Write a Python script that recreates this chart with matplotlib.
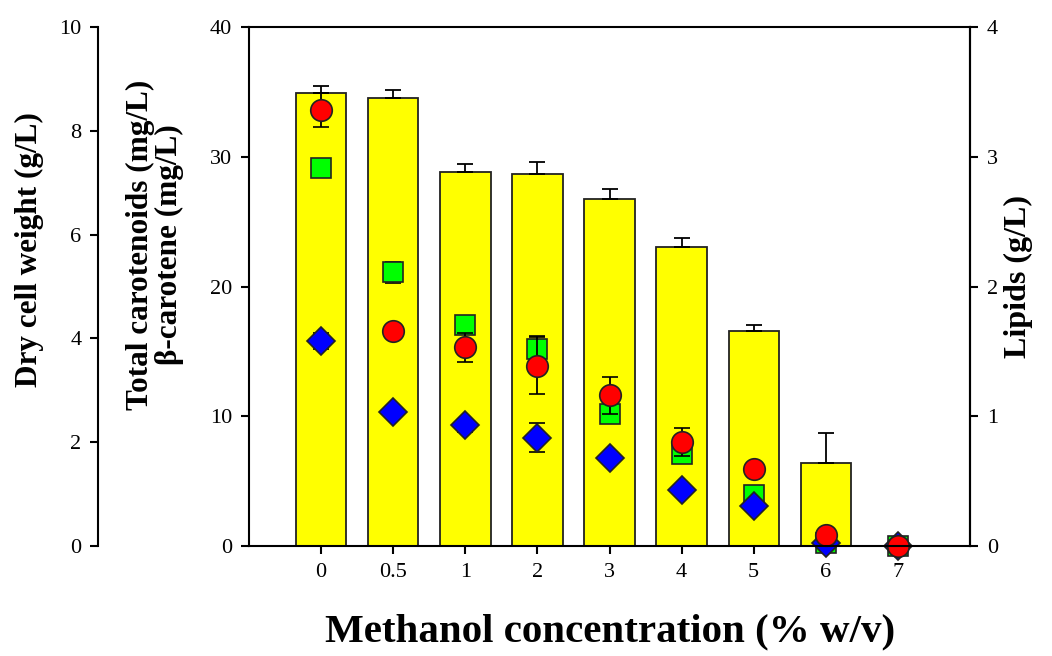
import numpy as np
import matplotlib
matplotlib.use('Agg')
import matplotlib.pyplot as plt

plt.rcParams['font.family'] = ['Liberation Serif', 'DejaVu Serif']

methanol = ['0', '0.5', '1', '2', '3', '4', '5', '6', '7']

# dry cell weight (g/L) - bars
dcw = [8.73, 8.63, 7.21, 7.17, 6.69, 5.76, 4.14, 1.60, 0.0]
dcw_err = [0.13, 0.15, 0.15, 0.23, 0.18, 0.18, 0.12, 0.58, 0.0]

# total carotenoids (mg/L) - red circles
carot = [33.6, 16.6, 15.3, 13.9, 11.6, 8.0, 5.9, 0.85, 0.0]
carot_err = [1.3, 0.4, 1.1, 2.2, 1.4, 1.1, 0.3, 0.2, 0.0]

# beta-carotene (mg/L) - blue diamonds
bcar = [15.8, 10.3, 9.3, 8.35, 6.8, 4.3, 3.1, 0.2, 0.0]
bcar_err = [0.6, 0.3, 0.5, 1.1, 0.3, 0.3, 0.2, 0.1, 0.0]

# lipids (g/L) - green squares
lipids = [2.91, 2.11, 1.70, 1.52, 1.02, 0.71, 0.39, 0.02, 0.0]
lipids_err = [0.05, 0.08, 0.05, 0.10, 0.05, 0.05, 0.03, 0.0, 0.0]

x = np.arange(len(methanol))

fig = plt.figure(figsize=(10.52, 6.56), dpi=100)
ax = fig.add_axes([0.2367, 0.1677, 0.6854, 0.7911])
ax_dcw = ax.twinx()
ax_lip = ax.twinx()

ax_dcw.set_zorder(0)
ax_lip.set_zorder(1)
ax.set_zorder(2)
ax.patch.set_visible(False)
ax_lip.patch.set_visible(False)

# bars (dry cell weight)
ax_dcw.bar(x, dcw, width=0.7, color='#FFFF00', edgecolor='#222222', linewidth=1.3,
           yerr=[np.zeros(len(dcw)), dcw_err], capsize=6,
           error_kw=dict(ecolor='black', elinewidth=1.3, capthick=1.3))
ax_dcw.set_ylim(0, 10)
ax_dcw.yaxis.set_ticks_position('left')
ax_dcw.yaxis.set_label_position('left')
ax_dcw.spines['left'].set_position(('axes', -0.2094))
ax_dcw.spines['left'].set_visible(True)
for s in ['right', 'top', 'bottom']:
    ax_dcw.spines[s].set_visible(False)
ax_dcw.set_yticks([0, 2, 4, 6, 8, 10])

# lipids
ax_lip.errorbar(x, lipids, yerr=lipids_err, fmt='s', color='black', ms=14.5,
                mfc='#00FF00', mec='#222222', mew=1.2, capsize=6, elinewidth=1.3,
                capthick=1.3)
ax_lip.set_ylim(0, 4)
ax_lip.set_yticks([0, 1, 2, 3, 4])
for s in ['left', 'top', 'bottom']:
    ax_lip.spines[s].set_visible(False)

# carotenoids
ax.errorbar(x, bcar, yerr=bcar_err, fmt='D', color='black', ms=14,
            mfc='#0000FF', mec='#222222', mew=1.2, capsize=6, elinewidth=1.3,
            capthick=1.3)
ax.errorbar(x, carot, yerr=carot_err, fmt='o', color='black', ms=15.5,
            mfc='#FF0000', mec='#222222', mew=1.2, capsize=6, elinewidth=1.3,
            capthick=1.3)
ax.set_ylim(0, 40)
ax.set_yticks([0, 10, 20, 30, 40])
ax.set_xlim(-1, 9)
ax.set_xticks(x)
ax.set_xticklabels(methanol)

for a in (ax, ax_dcw, ax_lip):
    for s in a.spines.values():
        s.set_linewidth(1.5)
    a.tick_params(direction='out', length=6, width=1.5, labelsize=16, pad=6)

for line in ax.lines + ax_lip.lines:
    line.set_clip_on(False)

fig.text(0.028, 0.619, 'Dry cell weight (g/L)', rotation=90, fontsize=22.5,
         fontweight='bold', ha='center', va='center')
fig.text(0.147, 0.627, 'Total carotenoids (mg/L)\n\u03b2-carotene (mg/L)', rotation=90,
         fontsize=22.5, fontweight='bold', ha='center', va='center', linespacing=1.0)
fig.text(0.968, 0.578, 'Lipids (g/L)', rotation=90, fontsize=23,
         fontweight='bold', ha='center', va='center')
fig.text(0.580, 0.022, 'Methanol concentration (% w/v)', fontsize=29.5,
         fontweight='bold', ha='center', va='baseline')

fig.savefig('out.png', dpi=100)
